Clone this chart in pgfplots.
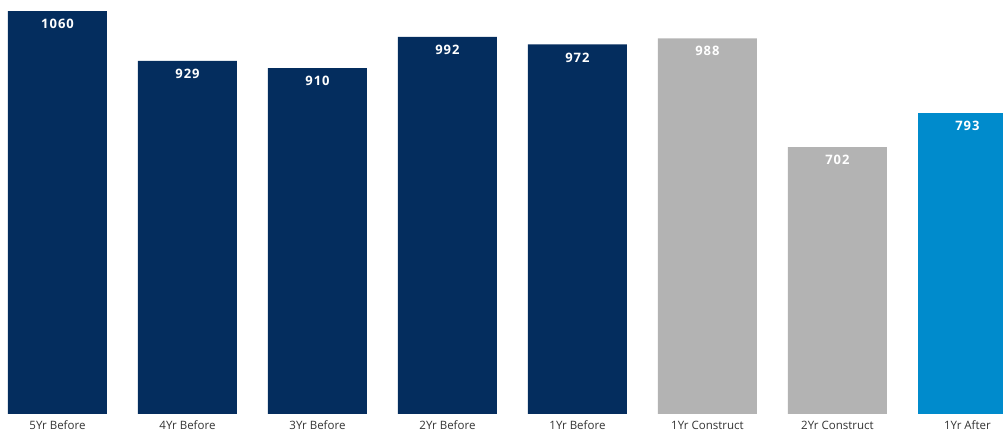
\documentclass[border=0pt]{standalone}
\usepackage{pgfplots}
\pgfplotsset{compat=1.18}
\usepackage{fontspec}
\setmainfont{Open Sans}
\newfontfamily\valfont[LetterSpace=8]{Open Sans}
\definecolor{navy}{HTML}{042D5E}
\definecolor{lgray}{HTML}{B3B3B3}
\definecolor{cblue}{HTML}{008BCC}
\definecolor{lab}{HTML}{333333}
\begin{document}
\begin{tikzpicture}
\begin{axis}[
  at={(0,0)}, anchor=south west,
  scale only axis,
  width=1003pt, height=414pt,
  xmin=-0.4423, xmax=7.2731,
  ymin=0, ymax=1089,
  axis line style={draw=none},
  major tick length=0pt,
  ytick=\empty,
  xtick={0,...,7},
  xticklabels={5Yr Before,4Yr Before,3Yr Before,2Yr Before,1Yr Before,1Yr Construct,2Yr Construct,1Yr After},
  xticklabel style={font=\fontsize{11.5}{13}\selectfont, text=lab, inner sep=0pt, anchor=north, yshift=-6.5pt},
  ybar, bar width=99pt, bar shift=0pt,
  nodes near coords,
  every node near coord/.append style={/pgf/number format/1000 sep={}, /pgf/number format/assume math mode=true, font=\valfont\bfseries\fontsize{13}{14}\selectfont, text=white, anchor=north, inner sep=0pt, yshift=-8pt},
  clip=true,
]
\addplot[fill=navy, draw=none] coordinates {(0,1060) (1,929) (2,910) (3,992) (4,972)};
\addplot[fill=lgray, draw=none] coordinates {(5,988) (6,702)};
\addplot[fill=cblue, draw=none] coordinates {(7,793)};
\end{axis}
\pgfresetboundingbox
\path[use as bounding box] (0,-19pt) rectangle (1003pt,414pt);
\end{tikzpicture}
\end{document}
